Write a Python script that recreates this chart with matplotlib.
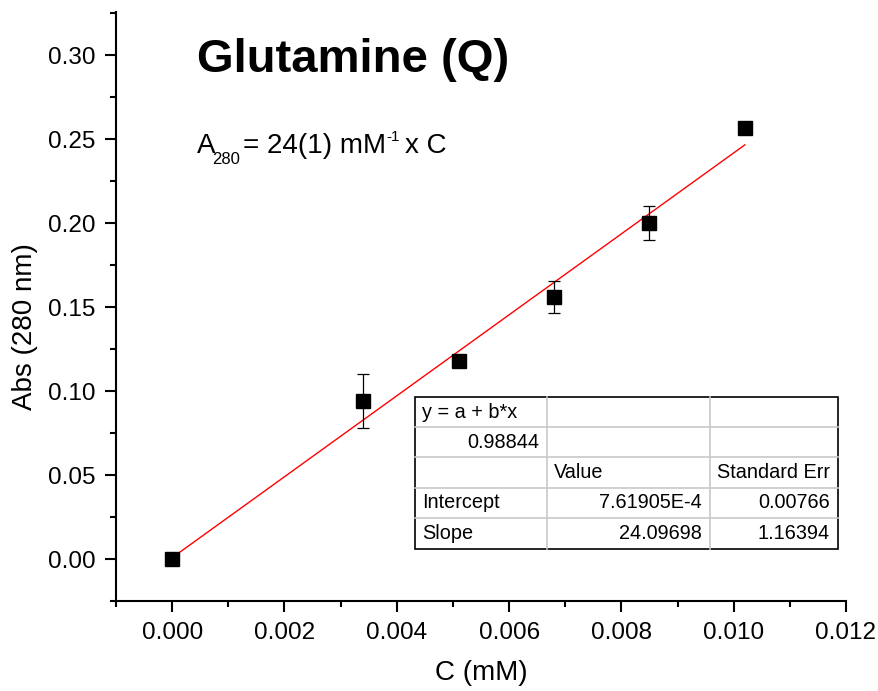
import matplotlib
matplotlib.use("Agg")
import matplotlib.pyplot as plt
import numpy as np
from matplotlib.ticker import MultipleLocator, FormatStrFormatter
from matplotlib.lines import Line2D

plt.rcParams['font.family'] = ['Liberation Sans', 'DejaVu Sans']

# Measured absorbance at 280 nm vs concentration
conc = [0.0, 0.0034, 0.0051, 0.0068, 0.0085, 0.0102]
absorb = [0.0, 0.094, 0.118, 0.156, 0.200, 0.2565]
abs_err = [0.0, 0.016, 0.0015, 0.0095, 0.010, 0.003]

# Linear fit parameters
intercept = 7.61905e-4
slope = 24.09698

title = "Glutamine (Q)"
x_label = "C (mM)"
y_label = "Abs (280 nm)"

table_rows = [
    ["y = a + b*x", "", ""],
    ["0.98844", "", ""],
    ["", "Value", "Standard Err"],
    ["Intercept", "7.61905E-4", "0.00766"],
    ["Slope", "24.09698", "1.16394"],
]

W, H = 879, 691


def fx(px):
    return px / W


def fy(py):
    return (H - py) / H


fig = plt.figure(figsize=(W / 100, H / 100), dpi=100)
ax = fig.add_axes([116/W, 90/H, 730/W, 589/H])

ax.errorbar(conc, absorb, yerr=abs_err, fmt='s', color='black', ms=9.5,
            ecolor='black', elinewidth=0.9, capsize=4.5, capthick=0.9, zorder=3)

xf = np.array([conc[0], conc[-1]])
ax.plot(xf, intercept + slope * xf, color='red', lw=1.0, zorder=2)

ax.set_xlim(-0.001, 0.012)
ax.set_ylim(-0.025, 0.3256)
ax.spines['top'].set_visible(False)
ax.spines['right'].set_visible(False)
for s in ('left', 'bottom'):
    ax.spines[s].set_linewidth(1.5)

ax.xaxis.set_major_locator(MultipleLocator(0.002))
ax.xaxis.set_minor_locator(MultipleLocator(0.001))
ax.yaxis.set_major_locator(MultipleLocator(0.05))
ax.yaxis.set_minor_locator(MultipleLocator(0.025))
ax.xaxis.set_major_formatter(FormatStrFormatter('%.3f'))
ax.yaxis.set_major_formatter(FormatStrFormatter('%.2f'))
ax.tick_params(which='major', direction='out', length=8, width=1.5, labelsize=17.5, pad=7)
ax.tick_params(which='minor', direction='out', length=4.5, width=1.5)

ax.set_xlabel(x_label, fontsize=20, labelpad=12)
ax.set_ylabel(y_label, fontsize=20)
ax.yaxis.set_label_coords(fx(38), fy(327), transform=fig.transFigure)

fig.text(fx(197), fy(72), title, fontsize=34, fontweight='bold',
         va='baseline', ha='left')

# Fit equation with sub/superscript pieces
eq_size, small = 20, 12
fig.text(fx(197), fy(153), "A", fontsize=eq_size, va='baseline')
fig.text(fx(212), fy(164), "280", fontsize=small, va='baseline')
fig.text(fx(243), fy(153), "= 24(1) mM", fontsize=eq_size, va='baseline')
fig.text(fx(386), fy(141), "-1", fontsize=small - 1, va='baseline')
fig.text(fx(405), fy(153), "x C", fontsize=eq_size, va='baseline')

# Fit summary table
col_x = [415, 547, 710, 838]
row_y = [397, 427, 457, 488, 518, 549]

for xv in col_x[1:-1]:
    fig.add_artist(Line2D([fx(xv)] * 2, [fy(row_y[0]), fy(row_y[-1])],
                          color='#c8c8c8', lw=1.2))
for yv in row_y[1:-1]:
    fig.add_artist(Line2D([fx(col_x[0]), fx(col_x[-1])], [fy(yv)] * 2,
                          color='#c8c8c8', lw=1.2))
fig.add_artist(plt.Rectangle((fx(col_x[0]), fy(row_y[-1])),
                             fx(col_x[-1]) - fx(col_x[0]), fy(row_y[0]) - fy(row_y[-1]),
                             fill=False, edgecolor='black', lw=1.2,
                             transform=fig.transFigure))

for r, row in enumerate(table_rows):
    yc = fy((row_y[r] + row_y[r + 1]) / 2)
    for c, txt in enumerate(row):
        if not txt:
            continue
        right = (c > 0 and r >= 3) or (r == 1 and c == 0)
        if right:
            xpos, ha = fx(col_x[c + 1] - 8), 'right'
        else:
            xpos, ha = fx(col_x[c] + 7), 'left'
        fig.text(xpos, yc, txt, fontsize=14.3, ha=ha, va='center')

fig.savefig("out.png", dpi=100)
